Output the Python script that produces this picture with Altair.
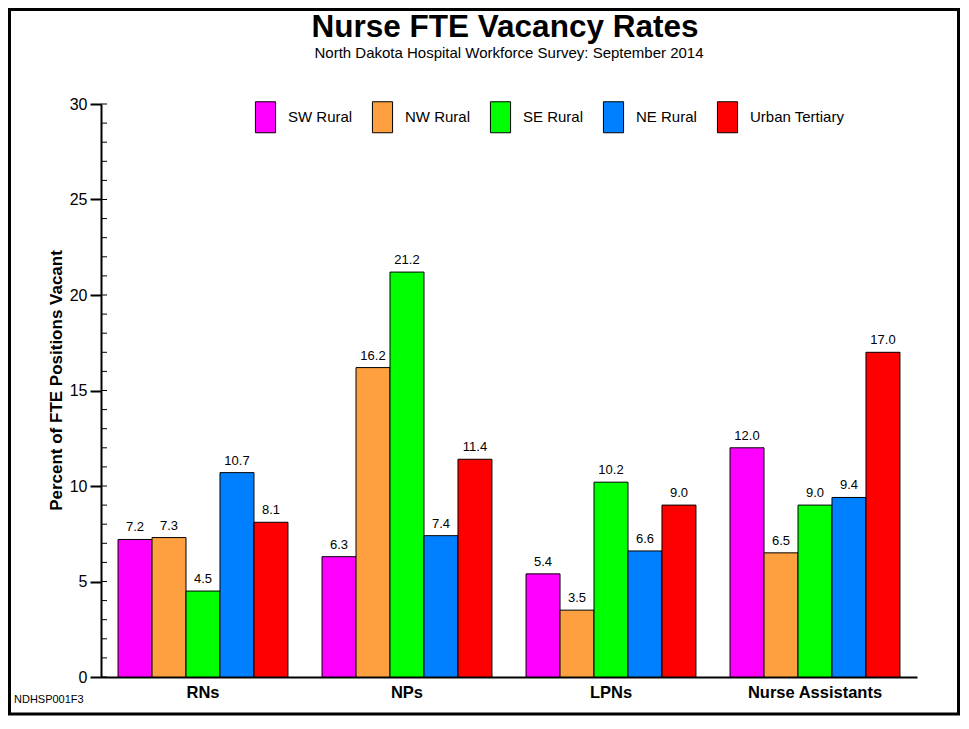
import altair as alt
import pandas as pd

categories = ["RNs", "NPs", "LPNs", "Nurse Assistants"]
regions = ["SW Rural", "NW Rural", "SE Rural", "NE Rural", "Urban Tertiary"]
colors = ["#FF00FF", "#FFA040", "#00FF00", "#0080FF", "#FF0000"]
sw_rural = [7.2, 6.3, 5.4, 12.0]
nw_rural = [7.3, 16.2, 3.5, 6.5]
se_rural = [4.5, 21.2, 10.2, 9.0]
ne_rural = [10.7, 7.4, 6.6, 9.4]
urban_tertiary = [8.1, 11.4, 9.0, 17.0]
y_ticks = [0, 5, 10, 15, 20, 25, 30]
minor_ticks = list(range(0, 31))

title_text = "Nurse FTE Vacancy Rates"
subtitle_text = "North Dakota Hospital Workforce Survey: September 2014"
footer_text = "NDHSP001F3"

rows = []
for reg, vals in zip(regions, [sw_rural, nw_rural, se_rural, ne_rural, urban_tertiary]):
    for c, v in zip(categories, vals):
        rows.append({"Category": c, "Region": reg, "Value": v})
df = pd.DataFrame(rows)

W, H = 816, 573
FONT = "Liberation Sans"

x_enc = alt.X(
    "Category:N", sort=categories,
    scale=alt.Scale(paddingInner=0.167, paddingOuter=0.0835),
    axis=alt.Axis(title=None, labelAngle=0, ticks=False, domainColor="black", domainWidth=2,
                  labelFont=FONT, labelFontWeight="bold", labelFontSize=16.5, labelColor="black",
                  labelPadding=7),
)
xo_enc = alt.XOffset("Region:N", sort=regions, scale=alt.Scale(paddingInner=0, paddingOuter=0))
y_scale = alt.Scale(domain=[0, 30], nice=False)
y_enc = alt.Y(
    "Value:Q", scale=y_scale,
    axis=alt.Axis(values=y_ticks, title="Percent of FTE Positions Vacant", grid=False,
                  domainColor="black", domainWidth=2, tickColor="black", tickWidth=2, tickSize=11,
                  labelFont=FONT, labelFontSize=16, labelColor="black", labelPadding=3,
                  titleFont=FONT, titleFontSize=17, titleFontWeight="bold", titleColor="black",
                  titlePadding=4, titleY=276),
)
color_enc = alt.Color(
    "Region:N", sort=regions, scale=alt.Scale(domain=regions, range=colors),
    legend=alt.Legend(title=None, orient="none", legendX=148.5, legendY=-3, direction="horizontal",
                      columns=5, symbolType="M-0.65,-1H0.65V1H-0.65Z", symbolSize=961,
                      symbolStrokeColor="black", symbolStrokeWidth=1, symbolOpacity=1,
                      labelFont=FONT, labelFontSize=15, labelColor="black", labelOffset=6.5,
                      columnPadding=14, padding=0),
)

base = alt.Chart(df)
bars = base.mark_bar(stroke="black", strokeWidth=1, opacity=1).encode(
    x=x_enc, xOffset=xo_enc, y=y_enc, color=color_enc
)
labels = base.mark_text(dy=-5, baseline="bottom", fontSize=13, font=FONT, color="black").encode(
    x=x_enc, xOffset=xo_enc, y=y_enc, text=alt.Text("Value:Q", format=".1f")
)

minor = alt.Chart(pd.DataFrame({"Value": minor_ticks})).mark_rule(color="black", strokeWidth=1).encode(
    y=y_enc, x=alt.value(0), x2=alt.value(6)
)

frame = alt.Chart(pd.DataFrame({"k": [0]})).mark_rect(
    fill="white", fillOpacity=0, stroke="black", strokeWidth=3
).encode(x=alt.value(-91.5), x2=alt.value(857.5), y=alt.value(-94.5), y2=alt.value(610))

title = alt.Chart(pd.DataFrame({"t": [title_text]})).mark_text(
    font=FONT, fontSize=31.5, fontWeight="bold", align="center", baseline="alphabetic", color="black"
).encode(text="t:N", x=alt.value(404), y=alt.value(-67))

subtitle = alt.Chart(pd.DataFrame({"t": [subtitle_text]})).mark_text(
    font=FONT, fontSize=15, align="center", baseline="alphabetic", color="black"
).encode(text="t:N", x=alt.value(408), y=alt.value(-46))

footer = alt.Chart(pd.DataFrame({"t": [footer_text]})).mark_text(
    font=FONT, fontSize=11, align="left", baseline="alphabetic", color="black"
).encode(text="t:N", x=alt.value(-87), y=alt.value(599))

chart = alt.layer(frame, bars, labels, minor, title, subtitle, footer).properties(
    width=W, height=H, padding=0
).configure_view(stroke=None)

chart.save("out.html", embed_options={"renderer": "svg", "actions": False})
